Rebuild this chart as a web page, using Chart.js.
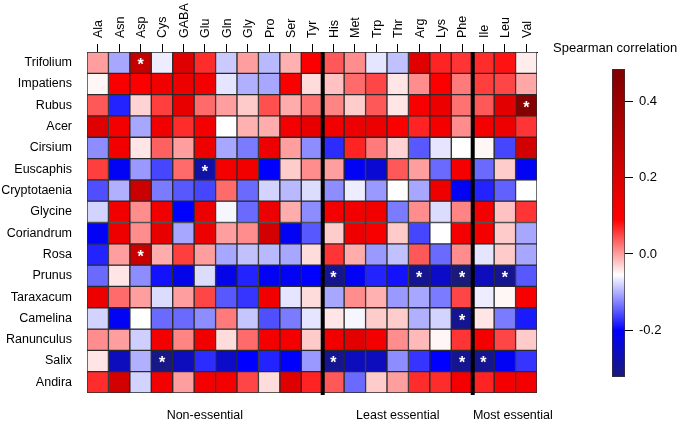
<!DOCTYPE html>
<html>
<head>
<meta charset="utf-8">
<script src="https://cdn.jsdelivr.net/npm/chart.js@4/dist/chart.umd.min.js"></script>
<style>
  body { margin: 0; background: #fff; }
  .wrap { position: relative; width: 685px; height: 426px; }
  canvas { position: absolute; top: 0; }
  #heat { left: 0; }
  #bar { left: 560px; }
</style>
</head>
<body>
<div class="wrap">
  <canvas id="heat" width="685" height="426"></canvas>
  <canvas id="bar" width="125" height="426"></canvas>
</div>
<script>
// amino acids along the top, split in three groups
const aminoAcids = ['Ala', 'Asn', 'Asp', 'Cys', 'GABA', 'Glu', 'Gln', 'Gly', 'Pro', 'Ser', 'Tyr',
  'His', 'Met', 'Trp', 'Thr', 'Arg', 'Lys', 'Phe', 'Ile', 'Leu', 'Val']
const groups = [
  { label: 'Non-essential', from: 0, to: 10 },
  { label: 'Least essential', from: 11, to: 17 },
  { label: 'Most essential', from: 18, to: 20 }
]
const species = ['Trifolium', 'Impatiens', 'Rubus', 'Acer', 'Cirsium', 'Euscaphis', 'Cryptotaenia',
  'Glycine', 'Coriandrum', 'Rosa', 'Prunus', 'Taraxacum', 'Camelina', 'Ranunculus', 'Salix', 'Andira']

// Spearman correlations, one row per genus (same order as aminoAcids)
const trifolium = [0.0, -0.105, 0.27, -0.065, 0.19, 0.065, -0.085, 0.0, -0.095, -0.01, 0.1, 0.04, 0.01, -0.07, -0.09, 0.19, 0.07, 0.06, 0.065, 0.08, -0.045]
const impatiens = [-0.05, 0.11, 0.1, 0.13, 0.15, 0.12, -0.07, -0.1, -0.105, 0.1, -0.035, -0.02, 0.03, 0.05, -0.04, 0.01, 0.1, 0.02, 0.055, 0.05, -0.005]
const rubus = [0.04, -0.18, -0.03, 0.055, 0.16, 0.03, 0.0, -0.025, 0.045, -0.008, 0.025, 0.015, -0.026, 0.04, -0.04, 0.11, 0.15, 0.025, 0.04, 0.18, 0.47]
const acer = [0.19, 0.12, -0.105, 0.13, 0.065, 0.12, -0.055, -0.01, -0.008, 0.12, 0.16, 0.13, 0.15, 0.15, 0.1, 0.07, 0.12, 0.01, 0.12, 0.14, 0.06]
const cirsium = [-0.12, 0.13, -0.04, 0.035, 0.0, 0.14, -0.105, -0.13, 0.14, 0.0, -0.12, -0.175, 0.07, 0.02, -0.03, -0.15, -0.07, -0.055, -0.05, -0.16, 0.23]
const euscaphis = [0.055, -0.21, -0.113, -0.16, 0.03, -0.28, 0.12, 0.13, -0.2, -0.026, 0.01, 0.0, -0.21, -0.24, 0.04, 0.0, -0.14, 0.12, -0.14, -0.026, -0.21]
const cryptotaenia = [-0.155, -0.1, 0.25, -0.13, -0.15, -0.16, 0.03, -0.14, -0.08, -0.095, -0.075, -0.12, -0.065, -0.113, -0.055, -0.105, 0.14, -0.21, -0.18, -0.145, -0.055]
const glycine = [-0.08, 0.13, 0.01, 0.13, -0.2, 0.15, -0.06, -0.14, 0.14, -0.008, -0.12, 0.12, 0.13, 0.13, -0.13, 0.01, -0.075, 0.015, 0.12, -0.02, 0.06]
const coriandrum = [-0.21, 0.14, 0.01, 0.16, -0.105, 0.15, 0.0, 0.01, 0.23, -0.21, -0.15, -0.026, 0.14, 0.11, -0.025, -0.16, -0.055, 0.12, 0.12, -0.025, -0.105]
const rosa = [-0.18, 0.0, 0.26, -0.008, 0.055, 0.0, -0.105, -0.09, -0.095, -0.105, -0.035, 0.06, -0.008, -0.113, -0.09, 0.04, -0.14, 0.01, -0.07, -0.025, -0.105]
const prunus = [-0.14, -0.04, -0.12, -0.19, -0.22, -0.075, -0.22, -0.18, -0.21, -0.21, -0.2, -0.3, -0.21, -0.18, -0.19, -0.3, -0.25, -0.32, -0.26, -0.3, -0.15]
const taraxacum = [0.15, 0.03, 0.0, -0.075, 0.0, 0.05, -0.15, -0.17, 0.13, -0.07, -0.035, -0.105, 0.01, -0.01, -0.113, -0.105, -0.13, 0.05, -0.065, -0.05, 0.11]
const camelina = [-0.08, -0.21, -0.055, -0.14, -0.14, -0.12, 0.02, -0.088, -0.155, -0.13, -0.07, -0.04, -0.06, -0.026, -0.026, -0.1, -0.08, -0.3, -0.04, -0.13, -0.185]
const ranunculus = [0.01, 0.0, -0.083, 0.12, 0.015, 0.13, -0.035, 0.03, 0.12, 0.12, -0.025, 0.13, 0.18, 0.12, 0.01, -0.015, -0.05, 0.06, 0.12, 0.05, -0.025]
const salix = [-0.04, -0.26, -0.1, -0.31, -0.26, -0.175, -0.25, -0.2, -0.18, -0.2, -0.113, -0.3, -0.26, -0.26, -0.12, -0.17, -0.2, -0.3, -0.3, -0.21, -0.17]
const andira = [0.065, 0.23, -0.08, 0.12, 0.0, 0.12, 0.12, 0.05, -0.035, 0.19, 0.07, 0.04, -0.14, -0.026, 0.0, 0.065, 0.065, 0.12, 0.07, 0.12, 0.12]
const rows = [trifolium, impatiens, rubus, acer, cirsium, euscaphis, cryptotaenia, glycine,
  coriandrum, rosa, prunus, taraxacum, camelina, ranunculus, salix, andira]

// significant cells [row, column]
const significant = [[0, 2], [2, 20], [5, 5], [9, 2], [10, 11], [10, 15], [10, 17], [10, 19],
  [12, 17], [14, 3], [14, 11], [14, 17], [14, 18]]

const scaleMin = -0.322
const scaleMax = 0.484
const scaleTicks = [-0.2, 0.0, 0.2, 0.4]

// colour ramp navy -> blue -> white -> red -> dark red
const stops = [
  [-0.322, [26, 26, 120]],
  [-0.2, [0, 0, 255]],
  [-0.055, [255, 255, 255]],
  [0.09, [255, 0, 0]],
  [0.484, [128, 0, 0]]
]

function colorFor(v) {
  if (v <= stops[0][0]) return 'rgb(' + stops[0][1].join(',') + ')'
  for (let i = 1; i < stops.length; i++) {
    if (v <= stops[i][0]) {
      const [v0, c0] = stops[i - 1]
      const [v1, c1] = stops[i]
      const t = (v - v0) / (v1 - v0)
      const c = c0.map((a, k) => Math.round(a + (c1[k] - a) * t))
      return 'rgb(' + c.join(',') + ')'
    }
  }
  return 'rgb(' + stops[stops.length - 1][1].join(',') + ')'
}

const FONT = 'Liberation Sans, Arial, sans-serif'
Chart.defaults.font.family = FONT
Chart.defaults.font.size = 12.5
Chart.defaults.color = '#000'

const extras = {
  id: 'extras',
  afterDatasetsDraw(chart) {
    const { ctx, scales: { x, y } } = chart
    ctx.save()
    // thick group separators
    ctx.fillStyle = '#000'
    groups.slice(1).forEach(g => {
      const px = (x.getPixelForValue(g.from - 1) + x.getPixelForValue(g.from)) / 2
      ctx.fillRect(px - 2, y.top, 4, y.bottom - y.top + 2)
    })
    // asterisks
    ctx.fillStyle = '#fff'
    ctx.font = 'bold 16px ' + FONT
    ctx.textAlign = 'center'
    ctx.textBaseline = 'middle'
    significant.forEach(([r, c]) => {
      ctx.fillText('*', x.getPixelForValue(c), y.getPixelForValue(r + 0.5) + 3)
    })
    // group labels under the map
    ctx.fillStyle = '#000'
    ctx.font = '12.5px ' + FONT
    groups.forEach((g, i) => {
      let cx = (x.getPixelForValue(g.from) + x.getPixelForValue(g.to)) / 2
      if (i === 2) cx += 8
      ctx.fillText(g.label, cx, 416)
    })
    // colour bar title
    ctx.textAlign = 'left'
    ctx.font = '13px ' + FONT
    ctx.fillText('Spearman correlation', 553, 48)
    ctx.restore()
  }
}

new Chart(document.getElementById('heat'), {
  type: 'bar',
  data: {
    labels: aminoAcids,
    datasets: rows.map((vals, r) => ({
      label: species[r],
      data: aminoAcids.map(() => [r, r + 1]),
      backgroundColor: vals.map(colorFor),
      borderColor: '#2a2a2a',
      borderWidth: 1,
      borderSkipped: false,
      grouped: false,
      barPercentage: 1,
      categoryPercentage: 1
    }))
  },
  options: {
    responsive: false,
    animation: false,
    layout: { padding: { left: 0, top: 0, right: 148, bottom: 33 } },
    plugins: { legend: { display: false }, tooltip: { enabled: false } },
    scales: {
      x: {
        position: 'top',
        offset: true,
        grid: { offset: false, drawOnChartArea: false, tickLength: 8, color: '#000' },
        border: { display: true, color: '#000' },
        ticks: { minRotation: 90, maxRotation: 90, autoSkip: false, padding: 6, labelOffset: 16 },
        afterFit: s => { s.height = 52 }
      },
      y: {
        type: 'linear',
        min: 0,
        max: rows.length,
        reverse: true,
        grid: { display: false, drawTicks: false },
        border: { display: false },
        afterBuildTicks: s => { s.ticks = species.map((_, i) => ({ value: i + 0.5 })) },
        ticks: { autoSkip: false, padding: 15, callback: (v, i) => species[i] },
        afterFit: s => { s.width = 87 }
      }
    }
  },
  plugins: [extras]
})

// colour bar
new Chart(document.getElementById('bar'), {
  type: 'bar',
  data: {
    labels: [''],
    datasets: [{
      data: [[scaleMin, scaleMax]],
      backgroundColor: ctx => {
        const chart = ctx.chart
        const ys = chart.scales.y
        if (!chart.chartArea || !ys) return '#fff'
        const y0 = ys.getPixelForValue(scaleMin)
        const y1 = ys.getPixelForValue(scaleMax)
        if (!isFinite(y0) || !isFinite(y1)) return '#fff'
        const g = chart.ctx.createLinearGradient(0, y0, 0, y1)
        stops.forEach(([v, c]) => g.addColorStop((v - scaleMin) / (scaleMax - scaleMin), 'rgb(' + c.join(',') + ')'))
        return g
      },
      borderColor: '#333',
      borderWidth: 1,
      borderSkipped: false,
      barPercentage: 1,
      categoryPercentage: 1
    }]
  },
  options: {
    responsive: false,
    animation: false,
    layout: { padding: { left: 52, top: 69, right: 0, bottom: 49 } },
    plugins: { legend: { display: false }, tooltip: { enabled: false } },
    scales: {
      x: { display: false },
      y: {
        position: 'right',
        min: scaleMin,
        max: scaleMax,
        grid: { drawOnChartArea: false, tickLength: 8, color: '#000' },
        border: { display: false },
        afterBuildTicks: s => { s.ticks = scaleTicks.map(v => ({ value: v })) },
        ticks: { padding: 6, font: { size: 13 }, callback: v => v.toFixed(1) },
        afterFit: s => { s.width = 60 }
      }
    }
  }
})
</script>
</body>
</html>
